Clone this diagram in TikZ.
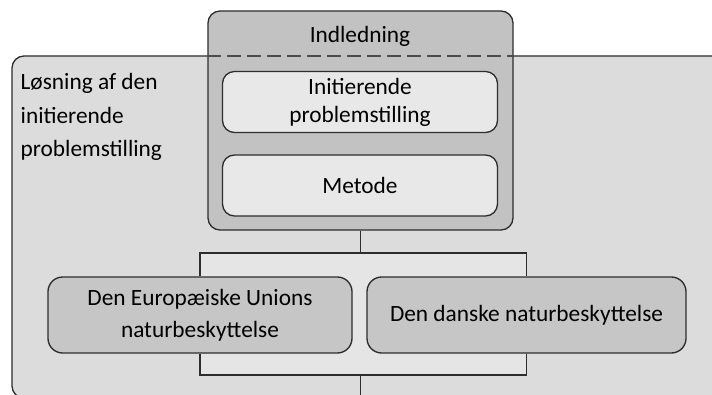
\documentclass[tikz,border=0pt]{standalone}
\usepackage{fontspec}
\setmainfont{Carlito}
\usepackage{tikz}
\usetikzlibrary{positioning, calc}
\definecolor{rimgray}{RGB}{45, 45, 45}
\definecolor{outergray}{RGB}{220, 220, 220}
\definecolor{introgray}{RGB}{194, 194, 194}
\definecolor{innergray}{RGB}{232, 232, 232}
\definecolor{topicgray}{RGB}{198, 198, 198}
\definecolor{bracketgray}{RGB}{229, 229, 229}
\newdimen\pxlen \pxlen=0.75pt

\begin{document}
\begin{tikzpicture}[x=0.75pt, y=-0.75pt, line width=1pt, font=\fontsize{17.5}{24}\selectfont,
  chapterbox/.style={draw=rimgray, fill=introgray, rounded corners=9pt},
  sectionbox/.style={draw=rimgray, fill=innergray, rounded corners=9pt, align=center, inner sep=2pt},
  topicbox/.style={draw=rimgray, fill=topicgray, rounded corners=11pt, align=center, inner sep=2pt},
  link/.style={draw=rimgray}]
  \useasboundingbox (0,0) rectangle (712,395);
  \clip (0,0) rectangle (712,395);

  % outer frame
  \draw[draw=rimgray, fill=outergray, rounded corners=9pt] (12,56) rectangle (760,398);
  \node[anchor=north west, align=left, inner sep=0pt, font=\fontsize{17.5}{25}\selectfont] (losning) at (20,73)
    {Løsning af den\\initierende\\problemstilling};

  % introduction
  \node[chapterbox, minimum width=305\pxlen, minimum height=219\pxlen] (intro) at (360.5,120.5) {};
  \node (indledning) at (360,36) {Indledning};
  \draw[draw=rimgray!85, line width=1.3pt, dash pattern=on 10pt off 5pt] (intro.west |- 0,56) -- (intro.east |- 0,56);
  \node[sectionbox, font=\fontsize{17.5}{21}\selectfont, minimum width=275\pxlen, minimum height=61\pxlen] (init) at (360,102)
    {Initierende\\problemstilling};
  \node[sectionbox, minimum width=275\pxlen, minimum height=61\pxlen] (metode) at (360,185.5) {Metode};

  % topics
  \coordinate (split) at (360.5,253);
  \coordinate (join) at (360.5,375);
  \coordinate (tail) at (360.5,400);
  \fill[bracketgray] (200,253) rectangle (526,375);
  \node[topicbox, minimum width=304\pxlen, minimum height=76\pxlen] (eu) at (200,315)
    {Den Europæiske Unions\\naturbeskyttelse};
  \node[topicbox, minimum width=319\pxlen, minimum height=76\pxlen] (dk) at (526.5,315)
    {Den danske naturbeskyttelse};

  \draw[link] (intro.south) -- (split);
  \draw[link] (eu.north) |- (split) -| (dk.north);
  \draw[link] (eu.south) |- (join) -| (dk.south);
  \draw[link] (join) -- (tail);
\end{tikzpicture}
\end{document}
